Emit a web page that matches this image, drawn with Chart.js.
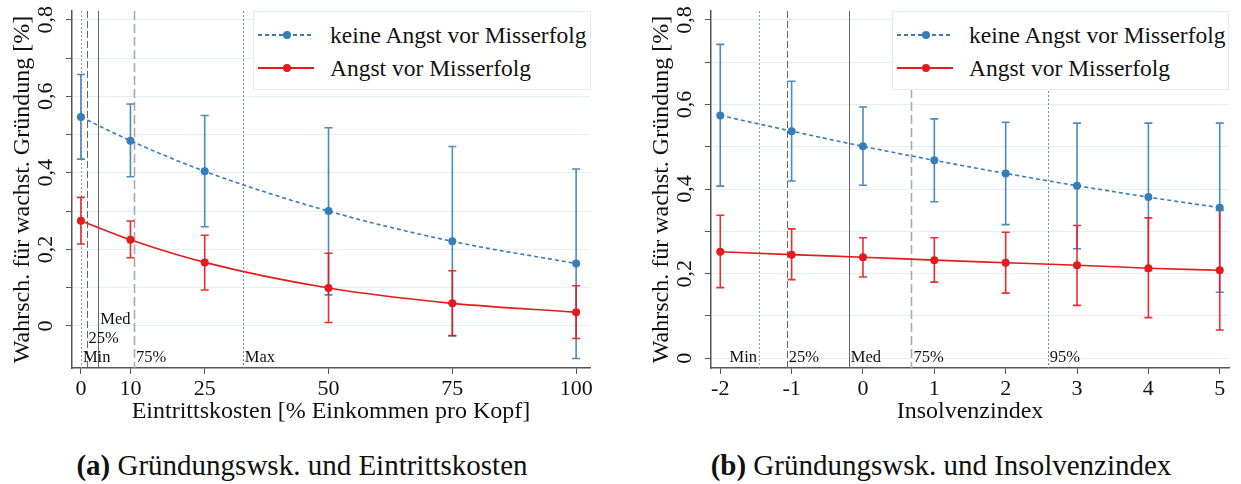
<!DOCTYPE html>
<html>
<head>
<meta charset="utf-8">
<script src="https://cdn.jsdelivr.net/npm/chart.js@4.4.0/dist/chart.umd.min.js"></script>
<style>
body { margin: 0; background: #fff; width: 1241px; height: 484px; position: relative; overflow: hidden; font-family: "Liberation Serif", "Times New Roman", "DejaVu Serif", serif; color: #111; }
.panel { position: absolute; top: 0; width: 602px; height: 430px; }
.legend { position: absolute; top: 11px; height: 79px; background: #fff; border: 1px solid #e2ebee; box-sizing: border-box; }
.row { position: absolute; left: 0; height: 24px; display: flex; align-items: center; font-size: 23.5px; white-space: nowrap; }
.sample { position: relative; width: 56px; height: 2px; margin-left: 4px; margin-right: 16px; }
.dot { position: absolute; left: 25px; top: -3px; width: 8px; height: 8px; border-radius: 50%; }
.caption { position: absolute; top: 449px; font-size: 29px; white-space: nowrap; transform: translateX(-50%); }
.caption b { font-weight: bold; }
</style>
</head>
<body>
<div class="panel" style="left:0"><canvas id="chartA"></canvas></div>
<div class="panel" style="left:639px"><canvas id="chartB"></canvas></div>
<div class="legend" id="legendA" style="left:253px; width:338px"></div>
<div class="legend" id="legendB" style="left:892px; width:337px"></div>
<div class="caption" style="left:302px"><b>(a)</b> Gründungswsk. und Eintrittskosten</div>
<div class="caption" style="left:941px"><b>(b)</b> Gründungswsk. und Insolvenzindex</div>
<script>
// series names
const seriesNames = ["keine Angst vor Misserfolg", "Angst vor Misserfolg"];

// panel a: Eintrittskosten
const xA = [0, 10, 25, 50, 75, 100];
const keineA = [0.546, 0.484, 0.404, 0.300, 0.221, 0.163];
const keineA_lo = [0.436, 0.390, 0.259, 0.081, -0.026, -0.085];
const keineA_hi = [0.657, 0.580, 0.550, 0.518, 0.469, 0.410];
const angstA = [0.275, 0.225, 0.166, 0.099, 0.059, 0.036];
const angstA_lo = [0.214, 0.178, 0.094, 0.009, -0.025, -0.033];
const angstA_hi = [0.336, 0.274, 0.237, 0.190, 0.144, 0.105];
const refA = [0, 1.15, 3.5, 10.7, 32.7];
const refA_labels = ["Min", "25%", "Med", "75%", "Max"];

// panel b: Insolvenzindex
const xB = [-2, -1, 0, 1, 2, 3, 4, 5];
const keineB = [0.574, 0.537, 0.501, 0.468, 0.437, 0.408, 0.381, 0.356];
const keineB_lo = [0.407, 0.419, 0.409, 0.370, 0.316, 0.259, 0.207, 0.156];
const keineB_hi = [0.742, 0.655, 0.594, 0.566, 0.558, 0.556, 0.556, 0.556];
const angstB = [0.252, 0.245, 0.239, 0.232, 0.226, 0.220, 0.213, 0.208];
const angstB_lo = [0.167, 0.186, 0.192, 0.180, 0.154, 0.125, 0.096, 0.067];
const angstB_hi = [0.338, 0.306, 0.285, 0.285, 0.298, 0.314, 0.332, 0.350];
const refB = [-1.457, -1.07, -0.20, 0.68, 2.59];
const refB_labels = ["Min", "25%", "Med", "75%", "95%"];

// tick labels
const xTicksA = [0, 10, 25, 50, 75, 100];
const xTicksB = [-2, -1, 0, 1, 2, 3, 4, 5];
const yTicks = [0, 0.1, 0.2, 0.3, 0.4, 0.5, 0.6, 0.7, 0.8];

const BLUE = "#377eb8";
const RED = "#e41a1c";
const FONT = "\"Liberation Serif\", \"Times New Roman\", \"DejaVu Serif\", serif";

// look of the reference lines: Min, 25%, Med, 75%, Max/95%
const refStyles = [
    { dash: [2, 2], color: "#9a9a9a", width: 1 },
    { dash: [7, 3], color: "#666", width: 1 },
    { dash: [], color: "#666", width: 1 },
    { dash: [9, 4], color: "#aaa", width: 1.6 },
    { dash: [2, 2], color: "#888", width: 1 },
];

//error bars + quantile lines
const extras = {
    id: "extras",
    beforeDatasetsDraw(chart, args, opts) {
        const { ctx, chartArea: a, scales: { x, y } } = chart;
        ctx.save();
        // vertical reference lines
        opts.values.forEach((v, i) => {
            const st = refStyles[i];
            const px = Math.round(x.getPixelForValue(v)) + 0.5;
            ctx.beginPath();
            ctx.setLineDash(st.dash);
            ctx.strokeStyle = st.color;
            ctx.lineWidth = st.width;
            ctx.moveTo(px, a.top);
            ctx.lineTo(px, a.bottom);
            ctx.stroke();
        });
        ctx.setLineDash([]);
        ctx.font = "16.5px " + FONT;
        ctx.fillStyle = "#111";
        ctx.textBaseline = "middle";
        opts.values.forEach((v, i) => {
            const px = x.getPixelForValue(v);
            const left = opts.sides[i] === "left";
            ctx.textAlign = left ? "right" : "left";
            ctx.fillText(opts.labels[i], px + (left ? -2 : 2), a.bottom - 10 - 19 * opts.rows[i]);
        });
        // error bars
        chart.data.datasets.forEach((ds) => {
            ctx.strokeStyle = ds.borderColor;
            ctx.lineWidth = 1.6;
            ctx.globalAlpha = 0.9;
            ds.data.forEach((p, i) => {
                const px = x.getPixelForValue(p.x);
                const y1 = y.getPixelForValue(ds.errLo[i]);
                const y2 = y.getPixelForValue(ds.errHi[i]);
                ctx.beginPath();
                ctx.moveTo(px, y1);
                ctx.lineTo(px, y2);
                ctx.moveTo(px - 4, y1);
                ctx.lineTo(px + 4, y1);
                ctx.moveTo(px - 4, y2);
                ctx.lineTo(px + 4, y2);
                ctx.stroke();
            });
        });
        ctx.restore();
    },
};

function makeChart(id, xs, keine, keineLo, keineHi, angst, angstLo, angstHi, xMin, xMax, yMin, yMax, xTicks, xTitle, ref) {
    const pts = (ys) => xs.map((v, i) => ({ x: v, y: ys[i] }));
    return new Chart(document.getElementById(id), {
        type: "line",
        data: {
            datasets: [
                {
                    label: seriesNames[0],
                    data: pts(keine),
                    errLo: keineLo,
                    errHi: keineHi,
                    borderColor: BLUE,
                    backgroundColor: BLUE,
                    borderWidth: 1.6,
                    borderDash: [4, 3],
                    pointRadius: 4,
                    pointBorderWidth: 0,
                    cubicInterpolationMode: "monotone",
                },
                {
                    label: seriesNames[1],
                    data: pts(angst),
                    errLo: angstLo,
                    errHi: angstHi,
                    borderColor: RED,
                    backgroundColor: RED,
                    borderWidth: 1.6,
                    pointRadius: 4,
                    pointBorderWidth: 0,
                    cubicInterpolationMode: "monotone",
                },
            ],
        },
        options: {
            responsive: true,
            maintainAspectRatio: false,
            animation: false,
            events: [],
            layout: { padding: { top: 11, right: 12, left: 0, bottom: 0 } },
            plugins: {
                legend: { display: false },
                tooltip: { enabled: false },
                extras: ref,
            },
            scales: {
                x: {
                    type: "linear",
                    min: xMin,
                    max: xMax,
                    afterBuildTicks: (s) => { s.ticks = xTicks.map((v) => ({ value: v })); },
                    afterFit: (s) => { s.height = 62; s.paddingLeft = 0; s.paddingRight = 0; },
                    ticks: { color: "#111", padding: 2, font: { family: FONT, size: 22 }, callback: (v) => String(v) },
                    grid: { drawOnChartArea: false, tickColor: "#555", tickLength: 6 },
                    border: { color: "#555", width: 1.5 },
                    title: { display: true, text: xTitle, color: "#111", font: { family: FONT, size: 24 }, padding: { top: 0, bottom: 4 } },
                },
                y: {
                    type: "linear",
                    min: yMin,
                    max: yMax,
                    afterBuildTicks: (s) => { s.ticks = yTicks.map((v) => ({ value: v })); },
                    afterFit: (s) => { s.width = 72; s.paddingTop = 0; s.paddingBottom = 0; },
                    ticks: {
                        color: "#111",
                        minRotation: 90,
                        maxRotation: 90,
                        crossAlign: "center",
                        padding: 6,
                        font: { family: FONT, size: 22 },
                        callback: (v) => {
                            const k = Math.round(v * 10);
                            if (k % 2 !== 0) return "";
                            return k === 0 ? "0" : (k / 10).toFixed(1).replace(".", ",");
                        },
                    },
                    grid: { color: "#e6eef0", tickColor: "#555", tickLength: 6 },
                    border: { color: "#555", width: 1.5 },
                    title: { display: true, text: "Wahrsch. für wachst. Gründung [%]", color: "#111", font: { family: FONT, size: 24 }, padding: { top: 8, bottom: 0 } },
                },
            },
        },
        plugins: [extras],
    });
}

function buildLegend(el, chart) {
    chart.data.datasets.forEach((ds, i) => {
        const row = document.createElement("div");
        row.className = "row";
        row.style.top = (11 + 33 * i) + "px";
        const sample = document.createElement("span");
        sample.className = "sample";
        sample.style.background = ds.borderDash
            ? "repeating-linear-gradient(to right, " + ds.borderColor + " 0 4px, transparent 4px 7px)"
            : ds.borderColor;
        const dot = document.createElement("i");
        dot.className = "dot";
        dot.style.background = ds.borderColor;
        sample.appendChild(dot);
        const txt = document.createElement("span");
        txt.textContent = ds.label;
        row.appendChild(sample);
        row.appendChild(txt);
        el.appendChild(row);
    });
}

const chartA = makeChart("chartA", xA, keineA, keineA_lo, keineA_hi, angstA, angstA_lo, angstA_hi,
    -1.8, 102.8, -0.11, 0.823, xTicksA, "Eintrittskosten [% Einkommen pro Kopf]",
    { values: refA, labels: refA_labels, rows: [0, 1, 2, 0, 0], sides: ["right", "right", "right", "right", "right"] });

const chartB = makeChart("chartB", xB, keineB, keineB_lo, keineB_hi, angstB, angstB_lo, angstB_hi,
    -2.13, 5.13, -0.023, 0.821, xTicksB, "Insolvenzindex",
    { values: refB, labels: refB_labels, rows: [0, 0, 0, 0, 0], sides: ["left", "right", "right", "right", "right"] });

buildLegend(document.getElementById("legendA"), chartA);
buildLegend(document.getElementById("legendB"), chartB);
</script>
</body>
</html>
